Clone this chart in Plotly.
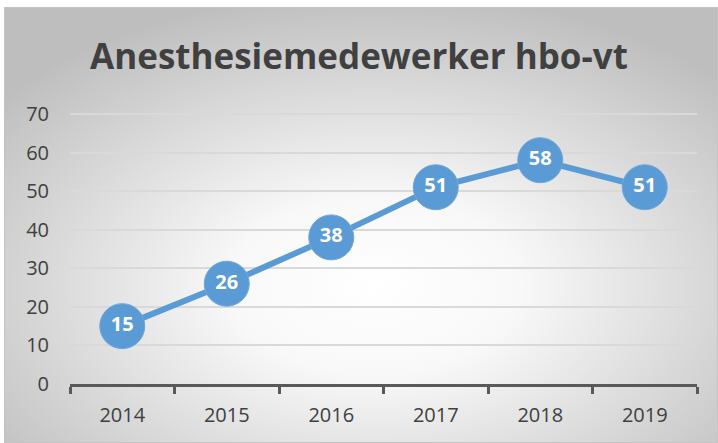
import plotly.graph_objects as go

years = ["2014", "2015", "2016", "2017", "2018", "2019"]
values = [15, 26, 38, 51, 58, 51]
title_text = "Anesthesiemedewerker hbo-vt"

svg = ("data:image/svg+xml;utf8,"
       "<svg xmlns='http://www.w3.org/2000/svg' width='714' height='436' preserveAspectRatio='none'>"
       "<defs><radialGradient id='g' cx='52%' cy='64%' r='68%'>"
       "<stop offset='0' stop-color='%23ffffff'/>"
       "<stop offset='0.3' stop-color='%23f8f8f8'/>"
       "<stop offset='1' stop-color='%23bebebe'/>"
       "</radialGradient></defs>"
       "<rect x='0' y='0' width='714' height='436' fill='url(%23g)' stroke='%23c4c4c4' stroke-width='2'/></svg>")

fig = go.Figure()
fig.add_trace(go.Scatter(
    x=years, y=values, mode="lines+markers+text",
    line=dict(color="#5B9BD5", width=6),
    marker=dict(size=45, color="#5B9BD5", line=dict(color="#6fa7da", width=1)),
    text=[str(v) for v in values], textposition="middle center",
    textfont=dict(family="Open Sans", size=20, color="white", weight="bold"),
    cliponaxis=False, hoverinfo="skip"))

fig.update_layout(
    width=718, height=443,
    margin=dict(l=70, r=21, t=112, b=59),
    paper_bgcolor="white", plot_bgcolor="rgba(0,0,0,0)",
    showlegend=False,
    images=[dict(source=svg, xref="paper", yref="paper",
                 x=(4 - 70) / 627, y=(384 - 7) / 272,
                 sizex=714 / 627, sizey=436 / 272, sizing="stretch",
                 xanchor="left", yanchor="top", layer="below")],
    title=dict(text="<b>" + title_text + "</b>", x=0.5, xanchor="center",
               y=1 - 57 / 443, yanchor="middle",
               font=dict(family="Open Sans", size=35, color="#404040")),
)
fig.update_xaxes(type="category", showline=True, linecolor="#595959", linewidth=3,
                 ticks="outside", tickson="boundaries", ticklen=7, tickwidth=3,
                 tickcolor="#595959", showgrid=False, range=[-0.5, 5.5],
                 tickfont=dict(family="Open Sans", size=20, color="#404040"),
                 ticklabelstandoff=11)
fig.update_yaxes(range=[0, 70.5], dtick=10, showline=False, showgrid=True,
                 gridcolor="#d9d9d9", gridwidth=1.5, zeroline=False,
                 tickfont=dict(family="Open Sans", size=20, color="#404040"),
                 ticklabelstandoff=20)

fig.write_html("out.html", config={"displayModeBar": False},
               post_script="document.body.style.margin='0px';")
